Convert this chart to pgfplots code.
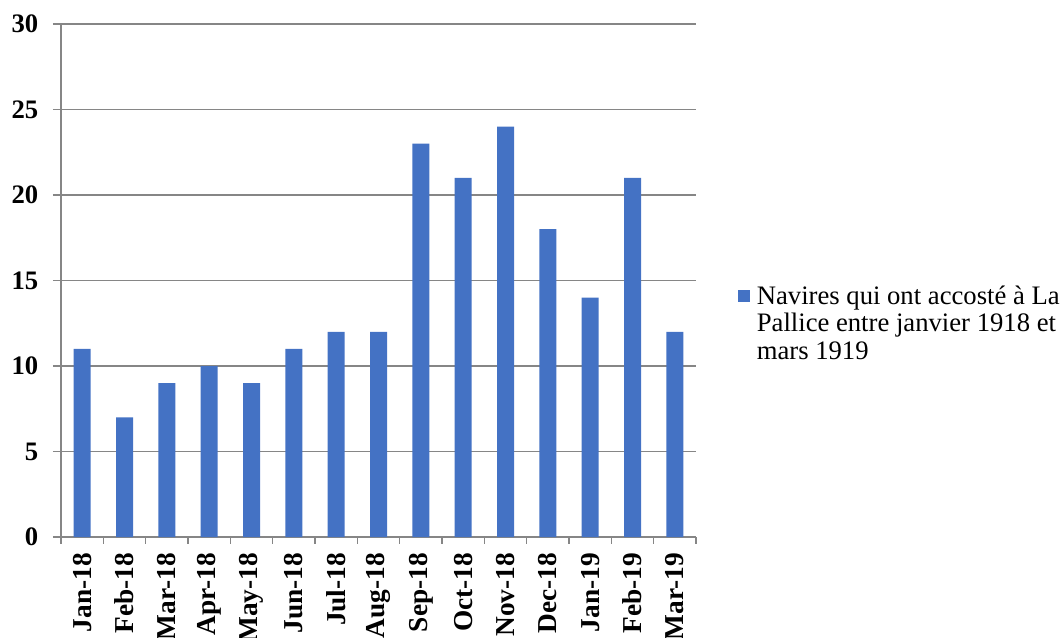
\documentclass[border=0pt]{standalone}
\usepackage{pgfplots}
\pgfplotsset{compat=1.18}
\usepackage{fontspec}
\setmainfont{Liberation Serif}
\definecolor{barblue}{RGB}{68,114,196}
\definecolor{gridgray}{RGB}{134,134,134}
\begin{document}
\begin{tikzpicture}[x=1pt,y=1pt]
\useasboundingbox (0,0) rectangle (798,477.75);
\begin{axis}[
  at={(45.75pt,75pt)}, anchor=south west,
  scale only axis, width=476.25pt, height=384.75pt,
  xmin=-0.5, xmax=14.5, ymin=0, ymax=30,
  ytick={0,5,...,30},
  xtick={0,...,14},
  xticklabels={Jan-18,Feb-18,Mar-18,Apr-18,May-18,Jun-18,Jul-18,Aug-18,Sep-18,Oct-18,Nov-18,Dec-18,Jan-19,Feb-19,Mar-19},
  minor xtick={-0.5,0.5,...,14.5},
  axis x line*=bottom, axis y line*=left,
  axis line style={gridgray, line width=1pt},
  tick align=outside,
  major tick length=6pt, minor tick length=5pt,
  major x tick style={draw=none},
  tick style={gridgray, line width=1pt},
  ymajorgrids, grid style={gridgray, line width=1pt},
  /pgf/number format/assume math mode=true,
  x tick label style={rotate=90, anchor=east, font=\bfseries\fontsize{20.5}{20.5}\selectfont},
  y tick label style={font=\bfseries\fontsize{20}{20}\selectfont},
  xticklabel shift=2.5pt,
  yticklabel shift=7.5pt,
  ybar, bar width=12.75pt,
  legend style={at={(rel axis cs:1.066,0.49)}, anchor=north west, draw=none, fill=none,
    font=\fontsize{20}{20.5}\selectfont, inner sep=0pt,
    nodes={align=left, inner sep=0pt}},
  legend cell align=left,
  legend image code/.code={\fill[#1] (0pt,16pt) rectangle (9pt,25pt);},
  /tikz/every even column/.append style={column sep=0pt},
]
\addplot[fill=barblue, draw=none] coordinates {
(0,11) (1,7) (2,9) (3,10) (4,9) (5,11) (6,12) (7,12) (8,23) (9,21) (10,24) (11,18) (12,14) (13,21) (14,12)};
\addlegendentry{\hspace{5pt}Navires qui ont accosté à La\\\hspace{5pt}Pallice entre janvier 1918 et\\\hspace{5pt}mars 1919}
\end{axis}
\end{tikzpicture}
\end{document}
